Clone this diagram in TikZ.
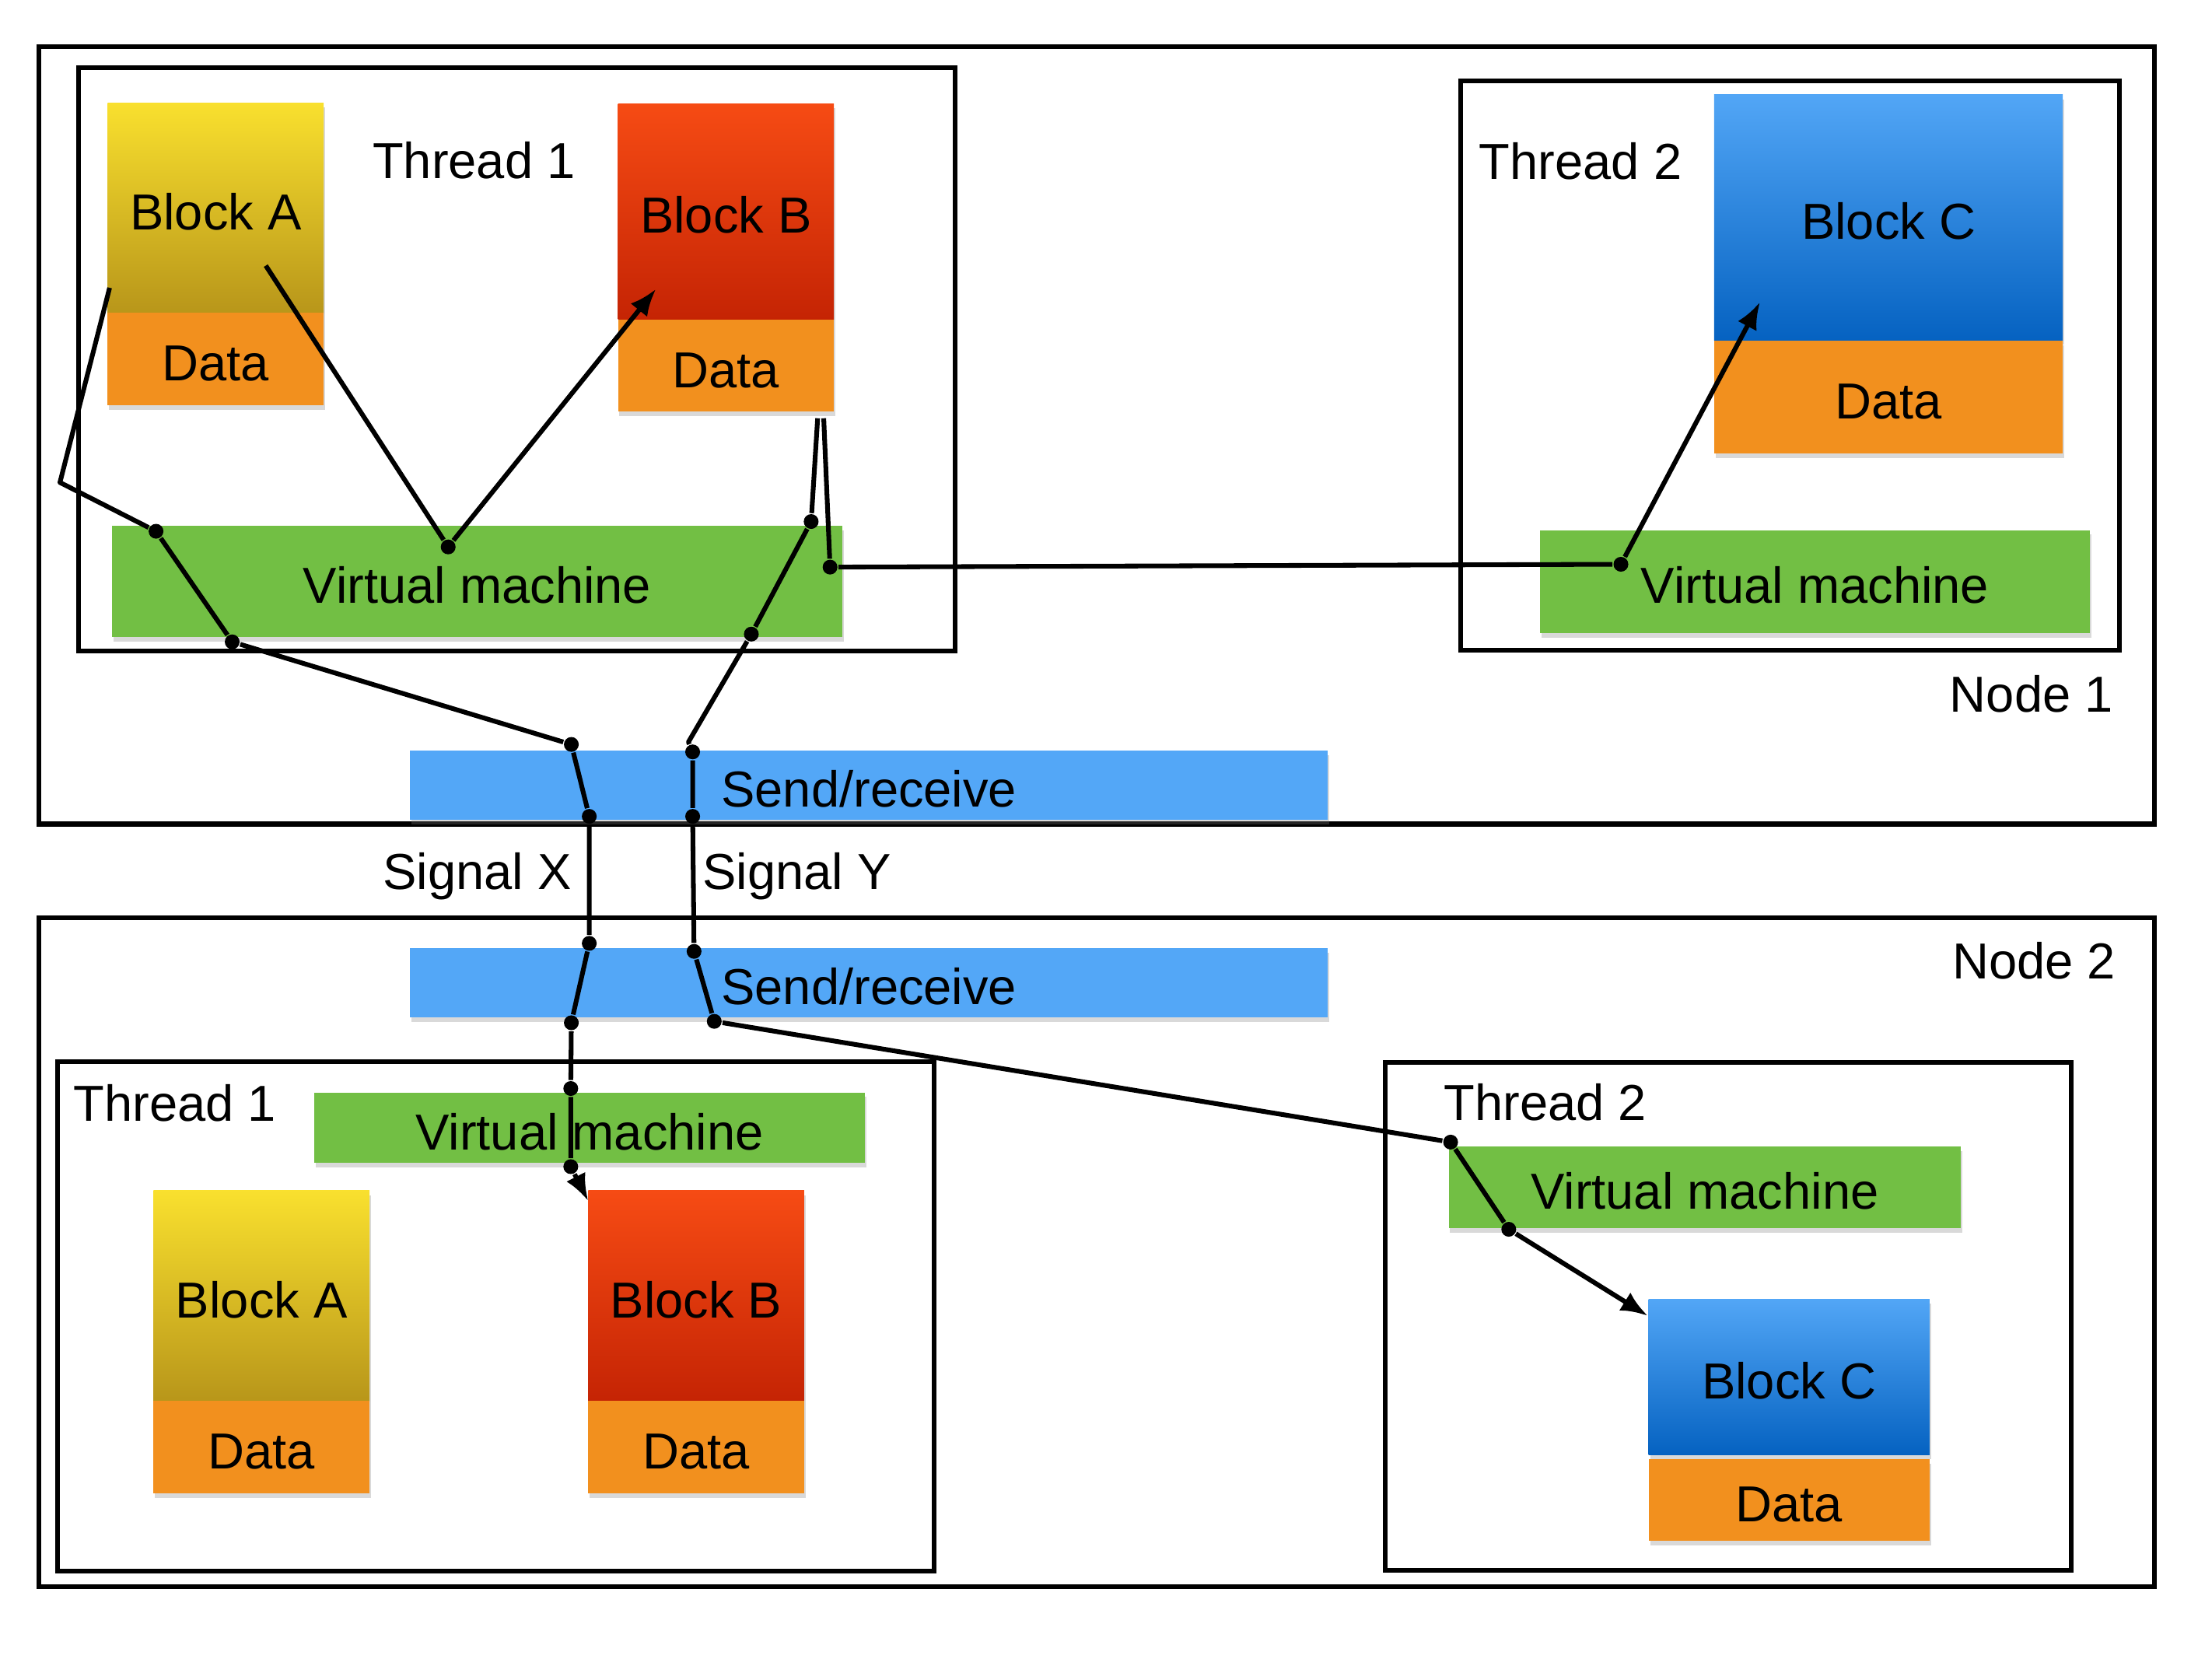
\documentclass[tikz,border=0pt]{standalone}
\usepackage{fontspec}
\setmainfont{Liberation Sans}
\usetikzlibrary{arrows.meta,shadows}
\definecolor{ayel}{HTML}{F9E02E}
\definecolor{aolive}{HTML}{B8961A}
\definecolor{bred}{HTML}{F64B14}
\definecolor{bdark}{HTML}{C52404}
\definecolor{csky}{HTML}{52A6F6}
\definecolor{cdeep}{HTML}{0562C1}
\definecolor{dataorange}{HTML}{F2901E}
\definecolor{vmgreen}{HTML}{72BF44}
\definecolor{srblue}{HTML}{53A7F7}

\begin{document}
\begin{tikzpicture}[x=0.01cm, y=-0.01cm, every node/.style={font=\fontsize{10.2}{12}\selectfont}, >={Latex[length=1.9mm, width=1.5mm]},
	frm/.style={draw, line width=0.95pt, inner sep=0pt},
	fl/.style={inner sep=0pt, text height=8.8pt, text depth=0pt, drop shadow={shadow xshift=0.3pt, shadow yshift=-0.9pt, opacity=.3}},
	blk/.style={fl, minimum width=1.53cm, minimum height=1.49cm},
	dat/.style={fl, fill=dataorange, minimum width=1.53cm, minimum height=0.655cm},
	vm/.style={fl, fill=vmgreen},
	sr/.style={fl, fill=srblue, minimum width=6.5cm, minimum height=0.49cm},
	lbl/.style={anchor=base},
	knot/.style={circle, fill, inner sep=0pt, minimum size=0.105cm},
	wire/.style={line width=0.95pt, line join=round}]
	\useasboundingbox (0,0) rectangle (1568,1176);

	% node 1
	\node[frm, minimum width=14.99cm, minimum height=5.51cm] (n1) at (777.5,308.5) {};
	\node[frm, minimum width=6.21cm, minimum height=4.13cm] (n1t1) at (366.6,254.6) {};
	\node[frm, minimum width=4.67cm, minimum height=4.03cm] (n1t2) at (1269,259.2) {};
	\node[lbl] (n1l) at (1440,504.5) {Node 1};
	\node[lbl] (n1t1l) at (336,126.6) {Thread 1};
	\node[lbl] (n1t2l) at (1120.4,127.2) {Thread 2};
	\node[blk, top color=ayel, bottom color=aolive] (n1a) at (152.9,147.5) {Block A};
	\node[dat] (n1ad) at (152.9,254.5) {Data};
	\node[blk, top color=bred, bottom color=bdark, minimum height=1.53cm] (n1b) at (514.6,149.9) {Block B};
	\node[dat] (n1bd) at (514.6,259.1) {Data};
	\node[blk, top color=csky, bottom color=cdeep, minimum width=2.47cm, minimum height=1.74cm] (n1c) at (1338.7,154.3) {Block C};
	\node[dat, minimum width=2.47cm, minimum height=0.8cm] (n1cd) at (1338.7,281.4) {Data};
	\node[vm, minimum width=5.17cm, minimum height=0.79cm] (n1vm1) at (338.3,412.2) {Virtual machine};
	\node[vm, minimum width=3.9cm, minimum height=0.73cm] (n1vm2) at (1286.6,412.3) {Virtual machine};
	\node[sr] (n1sr) at (616,556.5) {Send/receive};

	% node 2
	\node[frm, minimum width=14.99cm, minimum height=4.74cm] (n2) at (777.5,887.7) {};
	\node[frm, minimum width=6.21cm, minimum height=3.61cm] (n2t1) at (351.5,933.3) {};
	\node[frm, minimum width=4.86cm, minimum height=3.6cm] (n2t2) at (1225.1,933.3) {};
	\node[lbl] (n2l) at (1441.7,693.7) {Node 2};
	\node[lbl] (n2t1l) at (124,794.8) {Thread 1};
	\node[lbl] (n2t2l) at (1095.3,794.3) {Thread 2};
	\node[sr] (n2sr) at (616,696.7) {Send/receive};
	\node[vm, minimum width=3.9cm, minimum height=0.5cm] (n2vm1) at (418,799.5) {Virtual machine};
	\node[vm, minimum width=3.63cm, minimum height=0.58cm] (n2vm2) at (1208.5,841.8) {Virtual machine};
	\node[blk, top color=ayel, bottom color=aolive] (n2a) at (185.4,918.6) {Block A};
	\node[dat] (n2ad) at (185.4,1025.8) {Data};
	\node[blk, top color=bred, bottom color=bdark] (n2b) at (493.5,918.6) {Block B};
	\node[dat] (n2bd) at (493.5,1025.8) {Data};
	\node[blk, top color=csky, bottom color=cdeep, minimum width=1.99cm, minimum height=1.1cm] (n2c) at (1268.2,976.1) {Block C};
	\node[dat, minimum width=1.99cm, minimum height=0.58cm] (n2cd) at (1268.2,1063.4) {Data};

	\node[lbl] (sx) at (338.2,630.2) {Signal X};
	\node[lbl] (sy) at (564.8,630.2) {Signal Y};

	% signal paths
	\coordinate (p1s) at (188.4,188.3);
	\node[knot] (p1k) at (317.7,387.7) {};
	\coordinate (p1e) at (464.9,205);
	\coordinate (p4s) at (583.9,296.5);
	\node[knot] (p4k1) at (588.4,402) {};
	\node[knot] (p4k2) at (1149,400) {};
	\coordinate (p4e) at (1247.5,214.3);

	\coordinate (xs) at (77.7,204);
	\coordinate (xb) at (42.5,342);
	\node[knot] (x1) at (110.6,376.6) {};
	\node[knot] (x2) at (164.6,455) {};
	\node[knot] (x3) at (405,527.7) {};
	\node[knot] (x4) at (417.7,578.7) {};
	\node[knot] (x5) at (417.7,668.7) {};
	\node[knot] (x6) at (405,725) {};
	\node[knot] (x7) at (404.6,771.6) {};
	\node[knot] (x8) at (404.6,827) {};
	\coordinate (xe) at (416.9,851.2);

	\coordinate (ys) at (579.6,296.5);
	\node[knot] (y1) at (575,369.7) {};
	\node[knot] (y2) at (532.6,449.5) {};
	\coordinate (yb) at (488,526);
	\node[knot] (y3) at (491,533) {};
	\node[knot] (y4) at (491,578.7) {};
	\node[knot] (y5) at (492,674.4) {};
	\node[knot] (y6) at (506.3,724) {};
	\node[knot] (y7) at (1028.3,809.6) {};
	\node[knot] (y8) at (1069.5,871.4) {};
	\coordinate (ye) at (1168,932.7);

	\draw[wire, ->] (p1s) -- (p1k) -- (p1e);
	\draw[wire, ->] (p4s) -- (p4k1) -- (p4k2) -- (p4e);
	\draw[wire, ->] (xs) -- (xb) -- (x1) -- (x2) -- (x3) -- (x4) -- (x5) -- (x6) -- (x7) -- (x8) -- (xe);
	\draw[wire, ->] (ys) -- (y1) -- (y2) -- (yb) -- (y3) -- (y4) -- (y5) -- (y6) -- (y7) -- (y8) -- (ye);
\end{tikzpicture}
\end{document}
